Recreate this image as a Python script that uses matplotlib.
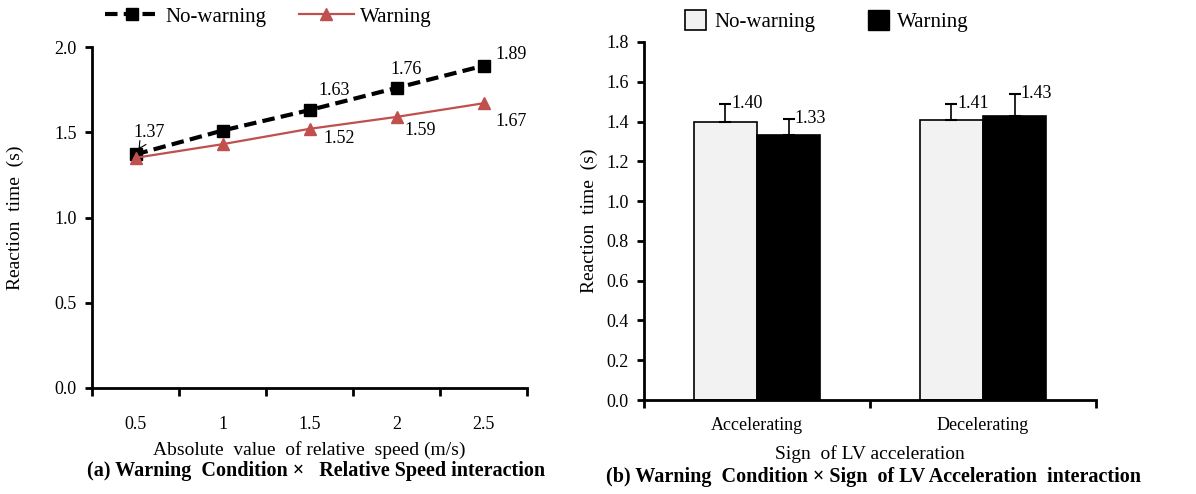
import matplotlib
matplotlib.use('Agg')
import matplotlib.pyplot as plt
import numpy as np
from matplotlib.lines import Line2D
from matplotlib.patches import Patch

# panel (a): warning condition x relative speed
speed = ['0.5', '1', '1.5', '2', '2.5']
rt_nowarn = [1.37, 1.51, 1.63, 1.76, 1.89]
rt_warn = [1.35, 1.43, 1.52, 1.59, 1.67]
lab_nowarn = ['1.37', None, '1.63', '1.76', '1.89']
lab_warn = [None, None, '1.52', '1.59', '1.67']

# panel (b): warning condition x sign of LV acceleration
signs = ['Accelerating', 'Decelerating']
bar_nowarn = [1.40, 1.41]
bar_warn = [1.33, 1.43]
err_nowarn = [0.09, 0.08]
err_warn = [0.085, 0.11]

plt.rcParams['font.family'] = ['Liberation Serif', 'DejaVu Serif']

W, H = 1196, 494
fig = plt.figure(figsize=(W / 100, H / 100), dpi=100)


def px_axes(x0, x1, ytop, ybot):
    return fig.add_axes([x0 / W, 1 - ybot / H, (x1 - x0) / W, (ybot - ytop) / H])


def style_axes(ax, pad):
    for s in ['top', 'right']:
        ax.spines[s].set_visible(False)
    for s in ['left', 'bottom']:
        ax.spines[s].set_linewidth(2)
    ax.tick_params(axis='y', direction='out', length=5, width=2, labelsize=13, pad=6)
    ax.tick_params(axis='x', which='major', direction='out', length=6, width=2, labelbottom=False)
    ax.tick_params(axis='x', which='minor', length=0, labelsize=13, pad=pad)


# ---------- (a) line chart ----------
ax1 = px_axes(92, 527, 47, 388)
x = np.arange(len(speed))
ax1.plot(x, rt_nowarn, color='black', lw=3, ls=(0, (3, 1.5)), marker='s', ms=9, label='No-warning')
ax1.plot(x, rt_warn, color='#C0504D', lw=1.6, marker='^', ms=8, label='Warning')
ax1.set_xlim(-0.5, len(speed) - 0.5)
ax1.set_ylim(0, 2.0)
ax1.set_yticks(np.arange(0, 2.01, 0.5))
ax1.set_yticklabels([f'{v:.1f}' for v in np.arange(0, 2.01, 0.5)])
ax1.set_xticks(np.arange(-0.5, len(speed)), minor=False)
ax1.set_xticks(x, minor=True)
ax1.set_xticklabels(speed, minor=True)
style_axes(ax1, 20)
ax1.set_ylabel('Reaction  time  (s)', fontsize=14, labelpad=22)
ax1.set_xlabel('Absolute  value  of relative  speed (m/s)', fontsize=14, labelpad=6)

# label offsets in points
offs_nw = [(10, 16), None, (18, 14), (7, 13), (20, 8)]
offs_w = [None, None, (21, -7), (17, -10), (20, -13)]
for i, (lab, off) in enumerate(zip(lab_nowarn, offs_nw)):
    if lab is None:
        continue
    arrow = None
    if i == 0:
        arrow = dict(arrowstyle='->', lw=0.8, color='black', shrinkA=3, shrinkB=4)
    ax1.annotate(lab, (x[i], rt_nowarn[i]), xytext=off, textcoords='offset points',
                 ha='center', va='center', fontsize=13, arrowprops=arrow)
for i, (lab, off) in enumerate(zip(lab_warn, offs_w)):
    if lab is None:
        continue
    ax1.annotate(lab, (x[i], rt_warn[i]), xytext=off, textcoords='offset points',
                 ha='center', va='center', fontsize=13)

h1 = [Line2D([], [], color='black', lw=3, ls=(0, (3, 1.5)), marker='s', ms=9),
      Line2D([], [], color='#C0504D', lw=1.6, marker='^', ms=8)]
fig.legend(h1, ['No-warning', 'Warning'], loc='center', bbox_to_anchor=(268 / W, 1 - 17 / H),
           ncol=2, frameon=False, fontsize=15, handlelength=2.6, columnspacing=1.6, handletextpad=0.3)

fig.text(316 / W, 1 - 471 / H, '(a) Warning  Condition \u00d7   Relative Speed interaction',
         ha='center', va='center', fontsize=14.5, fontweight='bold')

# ---------- (b) bar chart ----------
ax2 = px_axes(644, 1096, 42, 400)
xb = np.arange(len(signs))
bw = 0.28
xa = xb - bw / 2
xw = xb + bw / 2
ax2.bar(xa, bar_nowarn, bw, color='#F2F2F2', edgecolor='black', lw=1.2, label='No-warning', zorder=2)
ax2.bar(xw, bar_warn, bw, color='black', edgecolor='black', lw=1.2, label='Warning', zorder=2)
ax2.errorbar(xa, bar_nowarn, yerr=[np.zeros(len(signs)), err_nowarn], fmt='none',
             ecolor='black', elinewidth=1.2, capsize=4, capthick=1.5, zorder=3)
ax2.errorbar(xw, bar_warn, yerr=[np.zeros(len(signs)), err_warn], fmt='none',
             ecolor='black', elinewidth=1.2, capsize=4, capthick=1.5, zorder=3)
for xs, vals, errs in [(xa, bar_nowarn, err_nowarn), (xw, bar_warn, err_warn)]:
    for xi, v, e in zip(xs, vals, errs):
        ax2.annotate(f'{v:.2f}', (xi, v + e), xytext=(4, 0), textcoords='offset points',
                     ha='left', va='center', fontsize=13)

ax2.set_xlim(-0.5, len(signs) - 0.5)
ax2.set_ylim(0, 1.8)
yt = np.arange(0, 1.81, 0.2)
ax2.set_yticks(yt)
ax2.set_yticklabels([f'{v:.1f}' for v in yt])
ax2.set_xticks(np.arange(-0.5, len(signs)), minor=False)
ax2.set_xticks(xb, minor=True)
ax2.set_xticklabels(signs, minor=True)
style_axes(ax2, 12)
ax2.set_ylabel('Reaction  time  (s)', fontsize=14, labelpad=6)
ax2.set_xlabel('Sign  of LV acceleration', fontsize=14, labelpad=8)

h2 = [Patch(facecolor='#F2F2F2', edgecolor='black', lw=1.2), Patch(facecolor='black', edgecolor='black')]
fig.legend(h2, ['No-warning', 'Warning'], loc='center', bbox_to_anchor=(827 / W, 1 - 21 / H),
           ncol=2, frameon=False, fontsize=15, handlelength=1.0, handleheight=1.1,
           columnspacing=2.5, handletextpad=0.4)

fig.text(874 / W, 1 - 477 / H, '(b) Warning  Condition \u00d7 Sign  of LV Acceleration  interaction',
         ha='center', va='center', fontsize=14.5, fontweight='bold')

fig.savefig('out.png', dpi=100)
